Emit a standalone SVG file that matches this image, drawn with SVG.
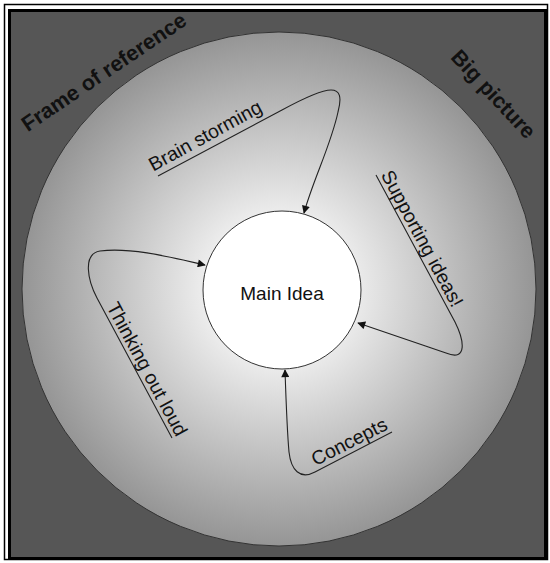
<svg xmlns="http://www.w3.org/2000/svg" width="550" height="563" viewBox="0 0 550 563">
  <defs>
    <radialGradient id="glow" cx="279" cy="289" r="257" gradientUnits="userSpaceOnUse">
      <stop offset="0" stop-color="#ffffff"/>
      <stop offset="0.25" stop-color="#f2f2f2"/>
      <stop offset="1" stop-color="#959595"/>
    </radialGradient>
    <marker id="arrow" viewBox="0 0 10 10" refX="9" refY="5" markerWidth="9" markerHeight="8" markerUnits="userSpaceOnUse" orient="auto">
      <path d="M0,0 L10,5 L0,10 z" fill="#111"/>
    </marker>
    <style>
      .label { font-family: "Liberation Sans", Arial, sans-serif; font-size: 19.5px; fill: #111; }
      .main { font-family: "Liberation Sans", Arial, sans-serif; font-size: 19px; fill: #111; }
      .bold { font-family: "Liberation Sans", Arial, sans-serif; font-size: 21.5px; font-weight: bold; fill: #111; }
      .conn { fill: none; stroke: #222; stroke-width: 1.1; marker-end: url(#arrow); }
      .ring { stroke: #333; stroke-width: 1; }
    </style>
  </defs>

  <g id="frame">
    <rect x="0" y="0" width="550" height="563" fill="#ffffff"/>
    <rect x="4.5" y="4.5" width="543" height="555" fill="none" stroke="#000" stroke-width="1.5"/>
    <rect x="9.5" y="10.5" width="536" height="548" fill="#565656" stroke="#000" stroke-width="3"/>
  </g>

  <g id="big-picture">
    <circle cx="279" cy="289" r="257" fill="url(#glow)" class="ring"/>
    <text class="bold" text-anchor="middle" transform="translate(108,78) rotate(-34)">Frame of reference</text>
    <text class="bold" text-anchor="middle" transform="translate(488,99) rotate(47)">Big picture</text>
  </g>

  <g id="main-idea">
    <circle cx="282" cy="290" r="79" fill="#ffffff" class="ring"/>
    <text class="main" x="282" y="300" text-anchor="middle">Main Idea</text>
  </g>

  <g id="connectors">
    <path class="conn" d="M158,176 L282,110 C330,84 346,82 338,112 C331,145 313,180 304,213"/>
    <path class="conn" d="M376,175 L455,322 C464,340 468,362 446,353 L358,323"/>
    <path class="conn" d="M392,432 L315,472 C300,480 291,470 289,452 C287,430 286,400 285,370"/>
    <path class="conn" d="M172,438 L97,298 C88,281 82,254 100,251 C130,247 170,257 205,265"/>
  </g>

  <g id="labels">
    <text class="label" transform="translate(158,176) rotate(-28.7)" x="-2" y="-6">Brain storming</text>
    <text class="label" transform="translate(376,175) rotate(61.7)" x="2" y="-4">Supporting ideas!</text>
    <text class="label" transform="translate(97,298) rotate(61.8)" x="12" y="-4">Thinking out loud</text>
    <text class="label" transform="translate(315,472) rotate(-26.9)" x="3" y="-5">Concepts</text>
  </g>
</svg>
